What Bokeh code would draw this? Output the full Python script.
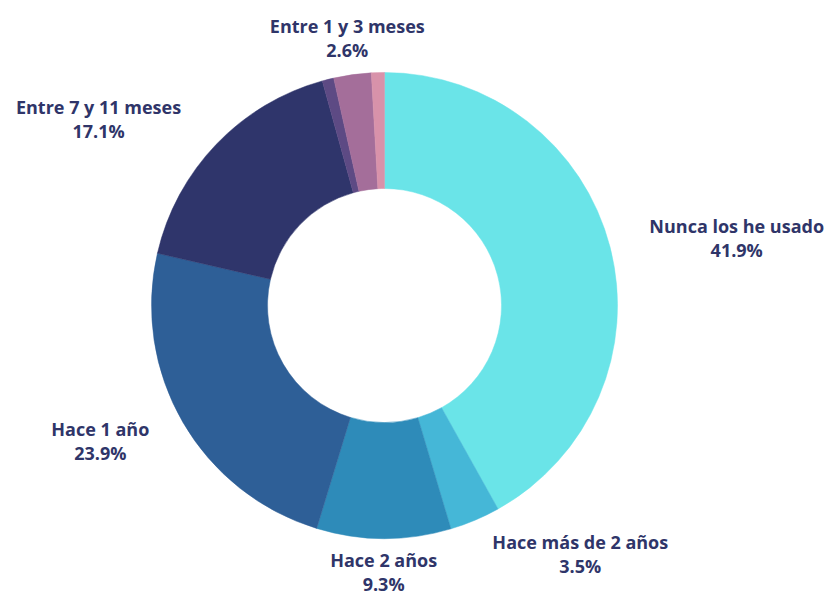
import math
from bokeh.plotting import figure
from bokeh.models import ColumnDataSource, Range1d
from bokeh.core.properties import value
from bokeh.embed import file_html
from bokeh.resources import INLINE

# Data
categories = ["Nunca los he usado", "Hace más de 2 años", "Hace 2 años", "Hace 1 año",
              "Entre 7 y 11 meses", "Entre 4 y 6 meses", "Entre 1 y 3 meses", "Hace menos de 1 mes"]
percents = [41.9, 3.5, 9.3, 23.9, 17.1, 0.8, 2.6, 0.9]
show_label = [True, True, True, True, True, False, True, False]
colors = ["#6AE4E8", "#45B7D7", "#2E8BB9", "#2E5F97", "#2F356B", "#5D4A84", "#A46E9A", "#D892AA"]

W, H = 832, 597
cx, cy = 384, 292
r_out, r_in = 233, 117
r_lab = 270
text_color = "#2F3569"
font = "Open Sans"
fsize = "18px"

total = sum(percents)
starts, ends, mids = [], [], []
cum = 0.0
for v in percents:
    a0 = math.pi / 2 - 2 * math.pi * cum / total
    cum += v
    a1 = math.pi / 2 - 2 * math.pi * cum / total
    starts.append(a0)
    ends.append(a1)
    mids.append((a0 + a1) / 2)

p = figure(width=W, height=H, output_backend="svg", toolbar_location=None,
           x_range=Range1d(0, W), y_range=Range1d(0, H), min_border=0)
p.axis.visible = False
p.grid.visible = False
p.outline_line_color = None
p.background_fill_color = "white"

src = ColumnDataSource(dict(x=[cx] * len(percents), y=[cy] * len(percents),
                            start=starts, end=ends, color=colors))
p.annular_wedge(x="x", y="y", inner_radius=r_in, outer_radius=r_out,
                start_angle="start", end_angle="end", direction="clock",
                fill_color="color", line_color="color", line_width=0.5, source=src)

names_x, names_y, pct_x, pct_y, names, pcts = [], [], [], [], [], []
for cat, v, m, show in zip(categories, percents, mids, show_label):
    if not show:
        continue
    ax = cx + r_lab * math.cos(m)
    ay = cy + r_lab * math.sin(m)
    w = len(cat) * 10.1
    c = math.cos(m)
    if abs(c) < 0.3:
        bx = ax
    elif c > 0:
        bx = ax + w / 2
    else:
        bx = ax - w / 2
    ay = max(ay, 26)
    names_x.append(bx); names_y.append(ay + 12)
    pct_x.append(bx); pct_y.append(ay - 12)
    names.append(cat); pcts.append(f"{v:.1f}%")

p.text(x=names_x, y=names_y, text=names, text_align="center", text_baseline="middle",
       text_font=value(font), text_font_style="bold", text_font_size=fsize, text_color=text_color)
p.text(x=pct_x, y=pct_y, text=pcts, text_align="center", text_baseline="middle",
       text_font=value(font), text_font_style="bold", text_font_size=fsize, text_color=text_color)

open("out.html", "w").write(file_html(p, INLINE))
